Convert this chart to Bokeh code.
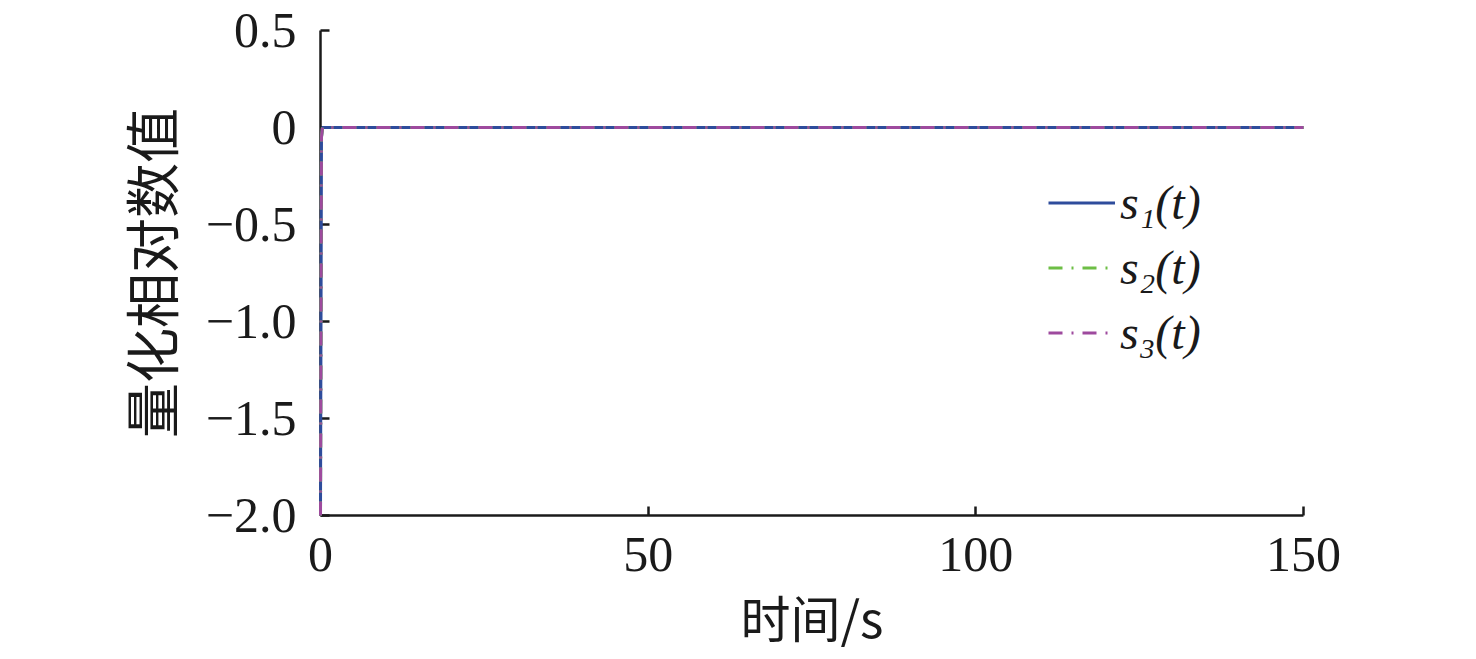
from bokeh.plotting import figure
from bokeh.models import Range1d, FixedTicker, Legend, LegendItem
from bokeh.embed import file_html
from bokeh.resources import INLINE

# data
t = [0, 0.15, 0.3, 150]
s1 = [-2.0, -0.05, 0.0, 0.0]
s2 = [-2.0, -0.05, 0.0, 0.0]
s3 = [-2.0, -0.05, 0.0, 0.0]
labels = ["s₁(t)", "s₂(t)", "s₃(t)"]
colors = ["#2E4C9C", "#6DBE45", "#9E4A9E"]
x_ticks = [0, 50, 100, 150]
y_ticks = [-2.0, -1.5, -1.0, -0.5, 0, 0.5]
y_tick_labels = {-2.0: "−2.0", -1.5: "−1.5", -1.0: "−1.0", -0.5: "−0.5", 0: "0", 0.5: "0.5"}

p = figure(frame_width=983, frame_height=485, output_backend="svg", toolbar_location=None,
           x_range=Range1d(0, 150), y_range=Range1d(-2.0, 0.5),
           min_border_left=320, min_border_right=157, min_border_top=30, min_border_bottom=136)
p.outline_line_color = None
p.grid.visible = False
p.background_fill_color = "white"

r1 = p.line(t, s1, line_color=colors[0], line_width=3, level="overlay")
r2 = p.line(t, s2, line_color=colors[1], line_width=3, line_dash="14 9 2 9", level="overlay")
r3 = p.line(t, s3, line_color=colors[2], line_width=3, line_dash="14 9 2 9", level="overlay")

serif = "Liberation Serif"
cjk = "Noto Sans CJK SC"
for ax in (p.xaxis[0], p.yaxis[0]):
    ax.axis_line_width = 2.5
    ax.axis_line_color = "#1a1a1a"
    ax.major_tick_line_width = 2.5
    ax.major_tick_line_color = "#1a1a1a"
    ax.major_tick_in = 9
    ax.major_tick_out = 0
    ax.minor_tick_line_color = None
    ax.major_label_text_font = serif
    ax.major_label_text_font_size = "50px"
    ax.major_label_text_color = "#1a1a1a"
    ax.axis_label_text_font = cjk
    ax.axis_label_text_font_style = "normal"
    ax.axis_label_text_color = "#1a1a1a"

p.xaxis.axis_label_text_font_size = "50px"
p.yaxis.axis_label_text_font_size = "55px"
p.xaxis.ticker = FixedTicker(ticks=x_ticks)
p.yaxis.ticker = FixedTicker(ticks=y_ticks)
p.yaxis.major_label_overrides = y_tick_labels
p.xaxis.major_label_standoff = 22
p.yaxis.major_label_standoff = 24
p.xaxis.axis_label = "时间/s"
p.yaxis.axis_label = "量化相对数值"
p.xaxis.axis_label_standoff = 6
p.yaxis.axis_label_standoff = 14

legend = Legend(items=[LegendItem(label=labels[i], renderers=[r]) for i, r in enumerate([r1, r2, r3])],
                location=(728, 150), border_line_alpha=0, background_fill_alpha=0,
                padding=0, margin=0, spacing=0, glyph_width=67, glyph_height=65,
                label_height=65, label_standoff=5,
                label_text_font=serif, label_text_font_size="48px",
                label_text_font_style="italic", label_text_color="#1a1a1a")
p.add_layout(legend)

open("out.html", "w").write(file_html(p, INLINE))
